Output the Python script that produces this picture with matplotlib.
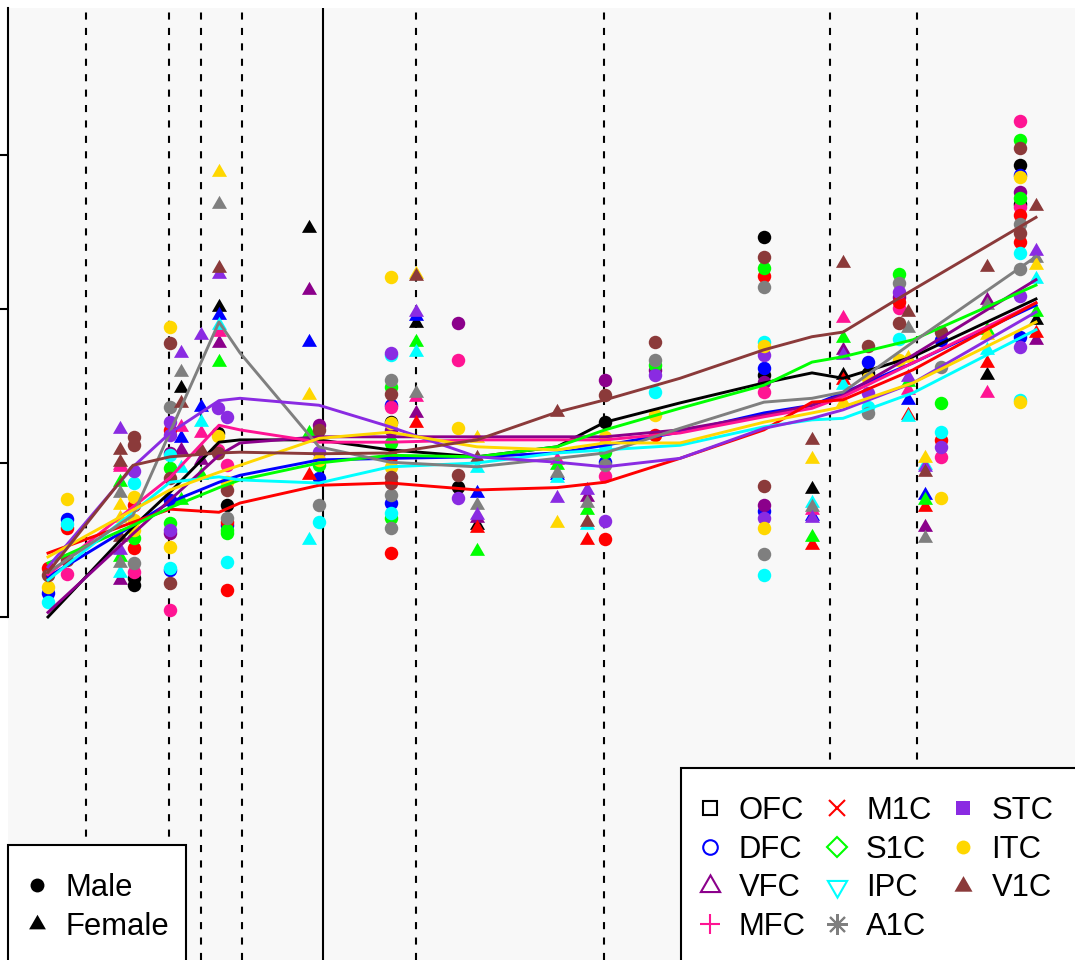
import numpy as np
import matplotlib
matplotlib.use("Agg")
import matplotlib.pyplot as plt
from matplotlib.lines import Line2D
from matplotlib.patches import Rectangle

plt.rcParams["font.family"] = ["Liberation Sans", "DejaVu Sans"]

nan = np.nan

#####################################################################
## Data
#####################################################################
regions = ["OFC", "DFC", "VFC", "MFC", "M1C", "S1C", "IPC", "A1C", "STC", "ITC", "V1C"]
colors = ["#000000", "#0000FF", "#8B008B", "#FF1493", "#FF0000", "#00FF00",
          "#00FFFF", "#7F7F7F", "#8A2BE2", "#FFD700", "#8B3A3A"]

# one entry per donor (log-age position, sex)
sample_age = [0.40, 0.59, 1.12, 1.12, 1.26, 1.26, 1.62, 1.62, 1.62, 1.73,
              1.93, 2.11, 2.10, 2.19, 3.01, 3.11, 3.83, 3.83, 3.83, 4.08,
              4.50, 4.69, 5.49, 5.79, 5.97, 6.47, 7.56, 7.56, 7.56, 8.04,
              8.35, 8.60, 8.91, 9.00, 9.17, 9.33, 9.79, 10.12, 10.12, 10.28,
              1.12, 1.26, 2.19]
sample_sex = ["M", "M", "F", "F", "M", "M", "M", "M", "M", "F",
              "F", "F", "M", "M", "F", "M", "M", "M", "M", "F",
              "M", "F", "F", "F", "M", "M", "M", "M", "M", "F",
              "F", "M", "M", "F", "F", "M", "F", "M", "M", "F",
              "F", "M", "M"]

OFC = [nan, nan, nan, nan, nan, 4.42, nan, nan, nan, 6.97,
       nan, 8.03, 6.39, 5.45, 9.05, nan, 6.53, nan, nan, 7.82,
       5.69, 5.19, nan, nan, 6.53, nan, 8.94, 7.14, nan, 5.66,
       7.14, 7.17, nan, nan, nan, nan, 7.14, 9.87, 9.36, 7.86,
       nan, 4.51, nan]
DFC = [4.31, 5.27, nan, nan, nan, nan, nan, 5.52, 4.61, 6.32,
       6.73, 7.92, nan, 5.19, 7.57, 5.81, 6.75, 5.48, nan, 7.91,
       nan, 5.61, 5.84, nan, 6.01, nan, nan, 7.23, 5.38, 5.31,
       nan, 7.31, nan, 6.82, 5.58, 7.60, nan, 9.74, 7.64, nan,
       nan, nan, nan]
VFC = [nan, nan, nan, 4.48, nan, nan, 6.13, 5.09, nan, 6.17,
       6.04, 7.56, nan, nan, 8.25, 6.49, 6.43, nan, nan, 6.65,
       7.82, 5.29, nan, 5.56, 7.08, 7.21, nan, 7.05, 5.45, nan,
       7.47, nan, 8.16, nan, 5.17, nan, 8.12, 9.52, nan, 7.60,
       nan, nan, nan]
MFC = [nan, 4.56, 5.97, nan, nan, 4.58, nan, nan, 4.09, 6.47,
       6.39, 7.70, 6.17, 5.97, 6.34, nan, 6.73, nan, nan, 6.86,
       7.34, nan, 6.04, nan, 5.83, nan, nan, 6.92, nan, 5.39,
       7.88, nan, 8.01, 6.95, nan, 6.08, 6.91, 10.44, 9.32, nan,
       5.95, nan, nan]
M1C = [4.64, 5.16, nan, nan, 5.45, 4.90, 6.43, nan, nan, nan,
       nan, nan, nan, 5.23, 5.84, nan, nan, 6.08, 4.83, 6.52,
       nan, 5.16, nan, 5.00, 5.01, 6.36, 8.43, nan, nan, 4.94,
       7.08, nan, 8.09, 6.62, 5.43, 6.30, 7.30, 9.22, 8.87, 7.69,
       nan, nan, 4.35]
S1C = [nan, nan, 5.75, 4.78, nan, 5.03, 5.94, 5.22, nan, 5.52,
       5.84, 7.31, nan, 5.13, 6.39, 5.97, 6.99, 6.26, 5.29, 7.57,
       nan, 4.86, 5.97, 5.39, 6.14, 7.27, 8.53, nan, nan, 5.04,
       7.62, nan, 8.45, 7.05, 5.52, 6.78, 7.73, 10.19, 9.44, 7.96,
       nan, nan, 5.09]
IPC = [4.19, 5.21, nan, 4.57, 5.74, nan, 6.10, nan, 4.64, 5.94,
       6.53, 7.79, nan, 4.71, 5.00, 5.23, 7.40, 5.35, nan, 7.44,
       nan, 5.94, 5.81, 5.19, 6.23, 6.92, nan, 7.57, 4.55, 5.48,
       7.01, 6.73, 7.61, 6.60, 5.97, 6.40, 7.47, 8.73, 6.82, 8.39,
       nan, nan, nan]
A1C = [nan, nan, 5.61, 4.70, nan, 4.70, 6.73, nan, nan, 7.18,
       nan, 9.36, nan, 5.29, nan, 5.45, 7.08, 5.58, 5.16, 6.91,
       nan, 5.45, 5.87, 5.48, 5.97, 7.34, 8.29, nan, 4.82, 5.43,
       nan, 6.65, 8.34, 7.75, 5.03, 7.25, 8.05, 9.10, 8.52, 8.66,
       nan, nan, nan]
STC = [nan, nan, 6.44, 4.87, 5.90, nan, 6.53, 6.36, 5.13, 7.43,
       7.66, 8.45, 6.71, 6.60, nan, 6.14, 7.43, nan, nan, 7.96,
       5.55, 5.32, 5.55, 5.65, 5.25, 7.14, nan, 7.40, 5.29, 5.29,
       7.40, 6.91, 8.22, 7.12, 5.95, 6.21, nan, 8.17, 7.51, 8.75,
       nan, nan, nan]
ITC = [4.39, 5.53, 5.45, 5.29, 5.56, 5.26, 7.77, 4.91, nan, nan,
       nan, 9.78, 6.35, 5.75, 6.88, 6.04, 8.42, 6.52, 5.95, 8.45,
       6.45, 6.32, 5.22, nan, 6.34, 6.62, nan, 7.52, 5.16, 6.05,
       6.79, 7.10, 7.34, 7.36, 6.06, 5.55, 7.66, 9.71, 6.79, 8.57,
       nan, 5.13, nan]
V1C = [4.55, 4.74, 6.17, 5.04, 6.34, 6.23, 7.56, 5.81, 4.44, 6.78,
       6.17, 8.53, 6.13, 5.65, nan, 6.43, 6.90, 5.82, 5.74, 8.43,
       5.84, 6.06, 6.66, 5.23, 6.88, 7.57, 8.68, nan, 5.70, 6.30,
       8.60, 7.52, 7.82, 7.96, 5.88, 7.70, 8.55, 10.09, 8.99, 9.34,
       6.01, nan, nan]

# smoothed trajectories
fit_age = [0.40, 1.25, 1.62, 2.11, 2.32, 3.11, 3.82, 4.69, 5.49, 5.97,
           6.72, 7.56, 8.04, 8.35, 9.05, 10.28]
OFC_fit = [4.00, 5.17, 5.62, 6.27, 6.30, 6.30, 6.17, 6.08, 6.21, 6.53, 6.78, 7.04, 7.17, 7.10, 7.38, 8.13]
DFC_fit = [4.52, 5.19, 5.49, 5.75, 5.84, 6.04, 6.06, 6.08, 6.13, 6.23, 6.40, 6.65, 6.75, 6.91, 7.30, 8.05]
VFC_fit = [4.06, 5.08, 5.52, 6.10, 6.26, 6.34, 6.34, 6.34, 6.34, 6.34, 6.43, 6.62, 6.75, 6.88, 7.40, 8.38]
MFC_fit = [4.55, 5.43, 5.81, 6.49, 6.43, 6.27, 6.27, 6.30, 6.30, 6.30, 6.39, 6.60, 6.71, 6.86, 7.30, 8.08]
M1C_fit = [4.83, 5.23, 5.40, 5.36, 5.48, 5.71, 5.74, 5.65, 5.68, 5.75, 6.06, 6.43, 6.79, 6.82, 7.21, 8.08]
S1C_fit = [4.70, 5.19, 5.42, 5.68, 5.78, 6.00, 6.10, 6.08, 6.21, 6.43, 6.71, 7.01, 7.31, 7.38, 7.60, 8.31]
IPC_fit = [4.48, 5.36, 5.75, 5.82, 5.78, 5.74, 5.95, 6.00, 6.13, 6.17, 6.23, 6.47, 6.56, 6.58, 6.91, 7.73]
A1C_fit = [4.58, 5.32, 6.40, 7.83, 7.43, 6.21, 6.01, 5.95, 6.06, 6.13, 6.45, 6.79, 6.84, 6.92, 7.57, 8.68]
STC_fit = [4.65, 5.95, 6.39, 6.81, 6.84, 6.75, 6.47, 6.08, 6.01, 5.95, 6.06, 6.45, 6.58, 6.69, 7.04, 7.96]
ITC_fit = [4.78, 5.39, 5.65, 5.88, 5.97, 6.32, 6.40, 6.21, 6.17, 6.26, 6.26, 6.53, 6.65, 6.73, 7.04, 7.83]
V1C_fit = [4.58, 5.97, 6.08, 6.13, 6.14, 6.12, 6.13, 6.30, 6.66, 6.82, 7.10, 7.47, 7.64, 7.70, 8.25, 9.19]

period_bounds = [0.78, 1.61, 1.93, 2.34, 4.08, 5.96, 8.22, 9.09]
birth = 3.15

values = [OFC, DFC, VFC, MFC, M1C, S1C, IPC, A1C, STC, ITC, V1C]
fits = [OFC_fit, DFC_fit, VFC_fit, MFC_fit, M1C_fit, S1C_fit,
        IPC_fit, A1C_fit, STC_fit, ITC_fit, V1C_fit]

#####################################################################
## Plot
#####################################################################
fig = plt.figure(figsize=(10.75, 9.6), dpi=100)
ax = fig.add_axes([8 / 1075, 0, 1067 / 1075, 952 / 960])
ax.set_facecolor("#F8F8F8")
ax.set_xlim(0, 10.67)
ax.set_ylim(-0.455, 11.909)

for b in period_bounds:
    ax.axvline(b, color="black", lw=1.5, ls=(0, (3.4, 4.0)), zorder=1)
ax.axvline(birth, color="black", lw=1.5, zorder=1)

age = np.array(sample_age)
sex = np.array(sample_sex)
for vals, col in zip(values, colors):
    v = np.array(vals, dtype=float)
    for s, mk, ms in (("M", "o", 9.7), ("F", (3, 0, 0), 12.5)):
        m = (sex == s) & ~np.isnan(v)
        ax.plot(age[m], v[m], ls="none", marker=mk, ms=ms, color=col, mew=0, zorder=2)

for fit, col in zip(fits, colors):
    ax.plot(fit_age, fit, color=col, lw=2.1, zorder=3)

for side in ("top", "right", "bottom"):
    ax.spines[side].set_visible(False)
ax.spines["left"].set_linewidth(1.5)
ax.spines["left"].set_bounds(4, 11.909)
ax.set_xticks([])
ax.set_yticks([4, 6, 8, 10])
ax.tick_params(axis="y", length=5.8, width=1.5, labelleft=False)

## Legend boxes (R style: white box, square corners, running off the edges)
ax.add_patch(Rectangle((673 / 1067, -0.02), 0.4, 0.2217, transform=ax.transAxes,
                       facecolor="white", edgecolor="black", lw=1.5, clip_on=False, zorder=6))
ax.add_patch(Rectangle((0, -0.02), 178 / 1067, 0.1408, transform=ax.transAxes,
                       facecolor="white", edgecolor="black", lw=1.5, clip_on=False, zorder=6))

legend_markers = ["s", "o", (3, 0, 0), "+", "x", "D", (3, 0, 180), (8, 2, 0), "s", "o", (3, 0, 0)]
legend_sizes = [10.5, 10.5, 16, 15, 12, 10, 16, 15, 10, 10, 15]
filled = [False] * 8 + [True] * 3
handles = []
for lab, col, mk, ms, fl in zip(regions, colors, legend_markers, legend_sizes, filled):
    handles.append(Line2D([], [], ls="none", marker=mk, ms=ms, color=col,
                          mfc=col if fl else "none", mew=0 if fl else 1.5, label=lab))

leg_kw = dict(prop={"size": 22.3}, handlelength=0.45, handletextpad=0.71, borderpad=0,
              labelspacing=0.285, frameon=False, borderaxespad=0, loc="upper left")
leg1 = ax.legend(handles=handles, ncol=3, columnspacing=0.78,
                 bbox_to_anchor=(695 / 1067, 164.3 / 952), **leg_kw)
leg1.set_zorder(7)
ax.add_artist(leg1)

sex_handles = [
    Line2D([], [], ls="none", marker="o", ms=10, color="black", mew=0, label="Male"),
    Line2D([], [], ls="none", marker=(3, 0, 0), ms=14, color="black", mew=0, label="Female"),
]
leg2 = ax.legend(handles=sex_handles, bbox_to_anchor=(22 / 1067, 87.3 / 952), **leg_kw)
leg2.set_zorder(7)

fig.savefig("out.png", dpi=100)
